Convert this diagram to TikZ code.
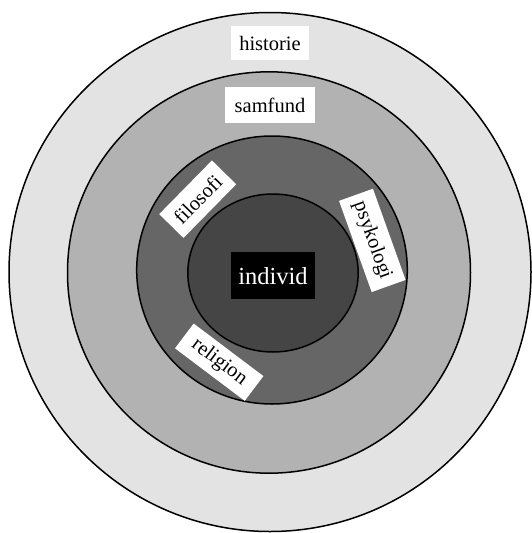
\documentclass[tikz,border=0pt]{standalone}
\usepackage{fontspec}
\setmainfont{Liberation Serif}
\tikzset{
	ring/.style={draw=black, line width=1.5pt},
	lbl/.style={fill=white, inner xsep=8pt, inner ysep=0pt, minimum height=34pt, font=\fontsize{20.5}{24}\selectfont}
}

\begin{document}
\begin{tikzpicture}[x=1pt, y=-1pt]
		%%%%% START %%%%%
		\useasboundingbox (0, 0) rectangle (532, 533);
		
		\draw[ring, fill=black!11] (270, 272) ellipse (261 and 259.5);
		\draw[ring, fill=black!30] (269, 272.5) ellipse (201.5 and 200.7);
		\draw[ring, fill=black!60] (272, 270) ellipse (135.3 and 134);
		\draw[ring, fill=black!73] (273, 273) ellipse (85.2 and 79);
		
		\node[lbl] (historie) at (270, 43) {historie};
		\node[lbl, minimum width=89.6pt, minimum height=36pt] (samfund) at (270, 105.4) {samfund};
		
		\node[lbl, minimum width=75pt, rotate=45.5] (filosofi) at (197.7, 199.2) {filosofi};
		\node[lbl, minimum width=93.7pt, minimum height=36pt, rotate=-70.3] (psykologi) at (372.3, 240.4) {psykologi};
		\node[lbl, minimum width=87.3pt, minimum height=31pt, rotate=-37] (religion) at (219.2, 362.2) {religion};
		
		\node[fill=black, text=white, minimum width=83.5pt, minimum height=47.5pt, inner sep=0pt, font=\fontsize{24.5}{28}\selectfont] (individ) at (273, 275.7) {individ};
		%%%%% END %%%%%
	\end{tikzpicture}
\end{document}
